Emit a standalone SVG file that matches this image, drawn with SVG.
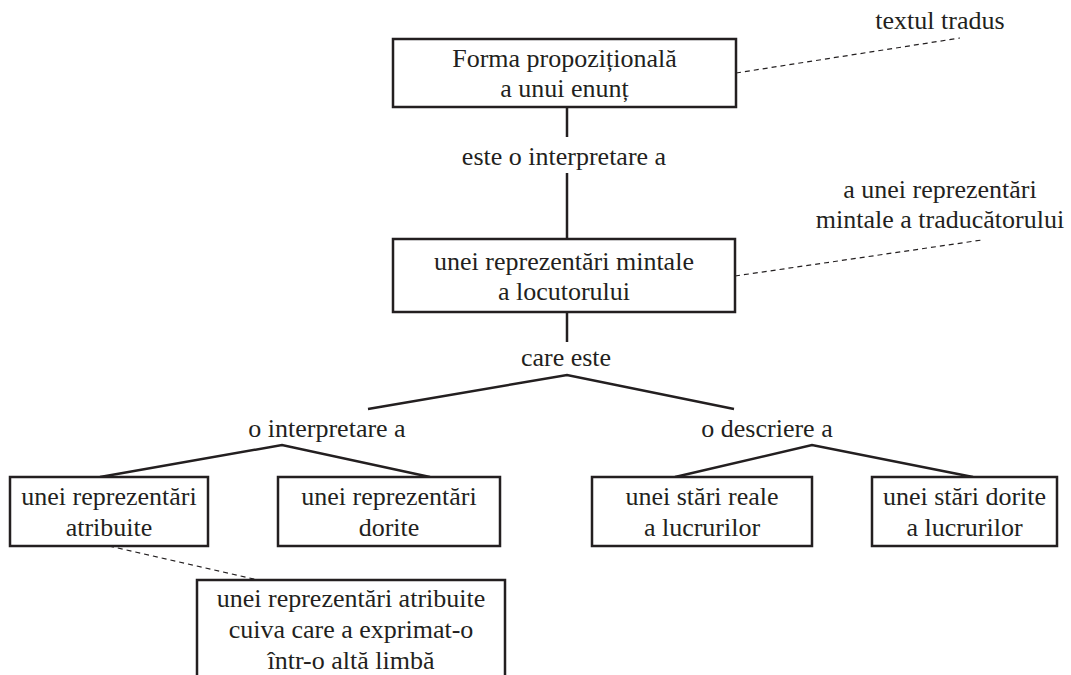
<svg xmlns="http://www.w3.org/2000/svg" width="1071" height="675" viewBox="0 0 1071 675">
<style>
.t{font-size:26px;fill:#231f20;text-anchor:middle}
.box{fill:#fff;stroke:#231f20;stroke-width:2.5}
.ln{stroke:#231f20;stroke-width:2.5;fill:none}
.ds{stroke:#231f20;stroke-width:1.2;stroke-dasharray:5 4;fill:none}
</style>
<rect width="1071" height="675" fill="#fff"/>
<g id="connectors">
<line class="ln" x1="567" y1="107" x2="567" y2="137"/>
<line class="ln" x1="567" y1="173" x2="567" y2="239"/>
<line class="ln" x1="567" y1="312" x2="567" y2="342"/>
<polyline class="ln" points="368,409 567,375 734,409"/>
<polyline class="ln" points="100,477 282,445 430,477"/>
<polyline class="ln" points="675,477 812,445 973,477"/>
<line class="ds" x1="736" y1="73" x2="960" y2="38"/>
<line class="ds" x1="735" y1="276" x2="982" y2="240"/>
<line class="ds" x1="109" y1="546" x2="258" y2="580"/>
</g>
<g id="lbl-tradus"><text class="t" font-family="Liberation Serif" x="940" y="29">textul tradus</text></g>
<g id="n1"><rect class="box" x="393" y="39" width="343" height="68"/>
<text class="t" font-family="Liberation Serif" x="564.5" y="67">Forma propozițională</text><text class="t" font-family="Liberation Serif" x="564.5" y="97">a unui enunț</text></g>
<g id="lbl-interp"><text class="t" font-family="Liberation Serif" x="564" y="165">este o interpretare a</text></g>
<g id="lbl-trad"><text class="t" font-family="Liberation Serif" x="940" y="198">a unei reprezentări</text><text class="t" font-family="Liberation Serif" x="940" y="228">mintale a traducătorului</text></g>
<g id="n2"><rect class="box" x="393" y="239" width="342" height="73"/>
<text class="t" font-family="Liberation Serif" x="564" y="270">unei reprezentări mintale</text><text class="t" font-family="Liberation Serif" x="564" y="300">a locutorului</text></g>
<g id="lbl-care"><text class="t" font-family="Liberation Serif" x="566" y="366">care este</text></g>
<g id="lbl-oi"><text class="t" font-family="Liberation Serif" x="327" y="437">o interpretare a</text></g>
<g id="lbl-od"><text class="t" font-family="Liberation Serif" x="767" y="437">o descriere a</text></g>
<g id="nA"><rect class="box" x="10" y="477" width="198" height="69"/>
<text class="t" font-family="Liberation Serif" x="109" y="505">unei reprezentări</text><text class="t" font-family="Liberation Serif" x="109" y="536">atribuite</text></g>
<g id="nB"><rect class="box" x="278" y="477" width="222" height="69"/>
<text class="t" font-family="Liberation Serif" x="389" y="505">unei reprezentări</text><text class="t" font-family="Liberation Serif" x="389" y="536">dorite</text></g>
<g id="nC"><rect class="box" x="592" y="477" width="220" height="69"/>
<text class="t" font-family="Liberation Serif" x="702" y="505">unei stări reale</text><text class="t" font-family="Liberation Serif" x="702" y="536">a lucrurilor</text></g>
<g id="nD"><rect class="box" x="872" y="477" width="185" height="69"/>
<text class="t" font-family="Liberation Serif" x="964.5" y="505">unei stări dorite</text><text class="t" font-family="Liberation Serif" x="964.5" y="536">a lucrurilor</text></g>
<g id="nE"><path class="box" d="M197,690 V580 H505 V690"/>
<text class="t" font-family="Liberation Serif" x="351" y="607">unei reprezentări atribuite</text><text class="t" font-family="Liberation Serif" x="351" y="638">cuiva care a exprimat-o</text><text class="t" font-family="Liberation Serif" x="351" y="669">într-o altă limbă</text></g>
</svg>
